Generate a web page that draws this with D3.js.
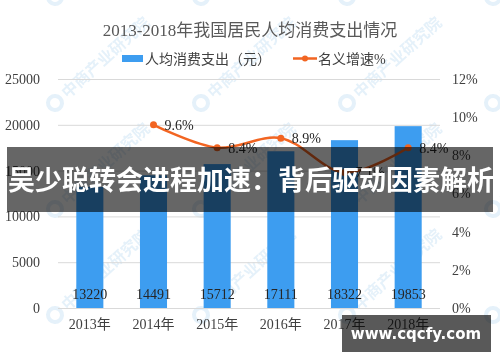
<!DOCTYPE html>
<html>
<head>
<meta charset="utf-8">
<script src="https://cdn.jsdelivr.net/npm/d3@7"></script>
<style>
  body { margin: 0; padding: 0; background: #fff; }
  svg { display: block; }
</style>
</head>
<body>
<div id="chart"></div>
<script>
const years = ["2013年", "2014年", "2015年", "2016年", "2017年", "2018年"];
const spending = [13220, 14491, 15712, 17111, 18322, 19853];
const growth = [null, 9.6, 8.4, 8.9, 7.1, 8.4];
const leftTicks = [0, 5000, 10000, 15000, 20000, 25000];
const rightTicks = [0, 2, 4, 6, 8, 10, 12];

const width = 500;
const height = 362;
const plot = { left: 58, right: 440, top: 79, bottom: 308 };

const numFont = "'Liberation Serif', 'Noto Sans CJK SC', serif";
const cjkFont = "'Liberation Serif', 'Noto Sans CJK SC', sans-serif";

const svg = d3.select("#chart")
  .append("svg")
  .attr("width", width)
  .attr("height", height)
  .attr("viewBox", `0 0 ${width} ${height}`)
  .style("background", "#fff");

const x = d3.scaleBand()
  .domain(years)
  .range([plot.left, plot.right])
  .paddingInner(0.575)
  .paddingOuter(0.2875);

const y = d3.scaleLinear().domain([0, 25000]).range([plot.bottom, plot.top]);
const y2 = d3.scaleLinear().domain([0, 12]).range([plot.bottom, plot.top]);

// faint watermark logos
const wm = svg.append("g").attr("fill", "#5aa6dc").attr("opacity", 0.16);
for (let r = 0; r < 4; r++) {
  for (let c = 0; c < 4; c++) {
    const cx = 55 + c * 146;
    const cy = 103 + r * 106 - 106 * (r === 3 ? 4 : 0);
    const g = wm.append("g").attr("transform", `translate(${cx},${cy}) rotate(-42)`);
    g.append("circle").attr("r", 7).attr("fill", "none")
      .attr("stroke", "#5aa6dc").attr("stroke-width", 4);
    g.append("text")
      .attr("x", 12).attr("dy", "0.35em")
      .style("font-family", "'Noto Sans CJK SC', sans-serif")
      .style("font-size", "16px").style("font-weight", "bold")
      .text("中商产业研究院");
  }
}

// title
svg.append("text")
  .attr("x", 250).attr("y", 30)
  .attr("text-anchor", "middle")
  .attr("dy", "0.35em")
  .attr("fill", "#595959")
  .style("font-family", cjkFont)
  .style("font-size", "17px")
  .text("2013-2018年我国居民人均消费支出情况");

// legend
const legend = svg.append("g")
  .style("font-family", cjkFont)
  .style("font-size", "14px")
  .attr("fill", "#404040");
legend.append("rect").attr("x", 122).attr("y", 55).attr("width", 21).attr("height", 7).attr("fill", "#3d9df0");
legend.append("text").attr("x", 145).attr("y", 59).attr("dy", "0.35em").text("人均消费支出（元）");
legend.append("line").attr("x1", 293).attr("x2", 317).attr("y1", 58.5).attr("y2", 58.5)
  .attr("stroke", "#f26522").attr("stroke-width", 2.5);
legend.append("circle").attr("cx", 305).attr("cy", 58.5).attr("r", 3).attr("fill", "#f26522");
legend.append("text").attr("x", 318).attr("y", 59).attr("dy", "0.35em").text("名义增速%");

// grid lines
svg.append("g")
  .attr("transform", `translate(${plot.left},0)`)
  .call(d3.axisLeft(y).tickValues(leftTicks).tickSize(-(plot.right - plot.left)).tickFormat(""))
  .call(g => g.select(".domain").remove())
  .call(g => g.selectAll("line").attr("stroke", "#d9d9d9"));

// left axis labels
svg.append("g")
  .attr("transform", `translate(40,0)`)
  .call(d3.axisLeft(y).tickValues(leftTicks).tickSize(0).tickPadding(0).tickFormat(d3.format("d")))
  .call(g => g.select(".domain").remove())
  .call(g => g.selectAll("text").attr("fill", "#404040")
    .style("font-family", numFont).style("font-size", "14px"));

// right axis labels
svg.append("g")
  .attr("transform", `translate(452,0)`)
  .call(d3.axisRight(y2).tickValues(rightTicks).tickSize(0).tickPadding(0).tickFormat(d => d + "%"))
  .call(g => g.select(".domain").remove())
  .call(g => g.selectAll("text").attr("fill", "#404040")
    .style("font-family", numFont).style("font-size", "14px"));

// x axis labels
svg.append("g")
  .attr("transform", `translate(0,${plot.bottom})`)
  .call(d3.axisBottom(x).tickSize(0).tickPadding(11))
  .call(g => g.select(".domain").remove())
  .call(g => g.selectAll("text").attr("fill", "#404040")
    .style("font-family", cjkFont).style("font-size", "14px"));

// bars
svg.append("g")
  .selectAll("rect")
  .data(spending)
  .join("rect")
  .attr("x", (d, i) => x(years[i]))
  .attr("width", x.bandwidth())
  .attr("y", d => y(d))
  .attr("height", d => y(0) - y(d))
  .attr("fill", "#3d9df0");

svg.append("g")
  .selectAll("text")
  .data(spending)
  .join("text")
  .attr("x", (d, i) => x(years[i]) + x.bandwidth() / 2)
  .attr("y", y(0) - 14)
  .attr("dy", "0.35em")
  .attr("text-anchor", "middle")
  .attr("fill", "#262626")
  .style("font-family", numFont)
  .style("font-size", "14px")
  .text(d => d);

// growth line
const pts = growth
  .map((v, i) => ({ v, cat: years[i] }))
  .filter(d => d.v !== null);

const line = d3.line()
  .x(d => x(d.cat) + x.bandwidth() / 2)
  .y(d => y2(d.v))
  .curve(d3.curveCatmullRom.alpha(0.5));

svg.append("path")
  .datum(pts)
  .attr("fill", "none")
  .attr("stroke", "#f26522")
  .attr("stroke-width", 2.5)
  .attr("d", line);

svg.append("g")
  .selectAll("circle")
  .data(pts)
  .join("circle")
  .attr("cx", d => x(d.cat) + x.bandwidth() / 2)
  .attr("cy", d => y2(d.v))
  .attr("r", 3.5)
  .attr("fill", "#f26522");

svg.append("g")
  .selectAll("text")
  .data(pts)
  .join("text")
  .attr("x", d => x(d.cat) + x.bandwidth() / 2 + 11)
  .attr("y", d => y2(d.v))
  .attr("dy", "0.35em")
  .attr("fill", "#262626")
  .style("font-family", numFont)
  .style("font-size", "14px")
  .text(d => d.v.toFixed(1) + "%");

// headline banner
svg.append("rect")
  .attr("x", 7).attr("y", 147).attr("width", 486).attr("height", 65)
  .attr("fill", "rgba(0,0,0,0.6)");
svg.append("text")
  .attr("x", 8).attr("y", 181)
  .attr("dy", "0.35em")
  .attr("fill", "#fff")
  .style("font-family", "'Noto Sans CJK SC', sans-serif")
  .style("font-size", "27px")
  .style("font-weight", "bold")
  .text("吴少聪转会进程加速：背后驱动因素解析");

// site watermark box
svg.append("rect")
  .attr("x", 342).attr("y", 315).attr("width", 149).attr("height", 37)
  .attr("fill", "rgba(0,0,0,0.65)");
svg.append("text")
  .attr("x", 416).attr("y", 333.5)
  .attr("dy", "0.35em")
  .attr("text-anchor", "middle")
  .attr("fill", "#fff")
  .style("font-family", "'DejaVu Sans', sans-serif")
  .style("font-size", "15px")
  .style("font-weight", "bold")
  .text("www.cqcfy.com");
</script>
</body>
</html>
